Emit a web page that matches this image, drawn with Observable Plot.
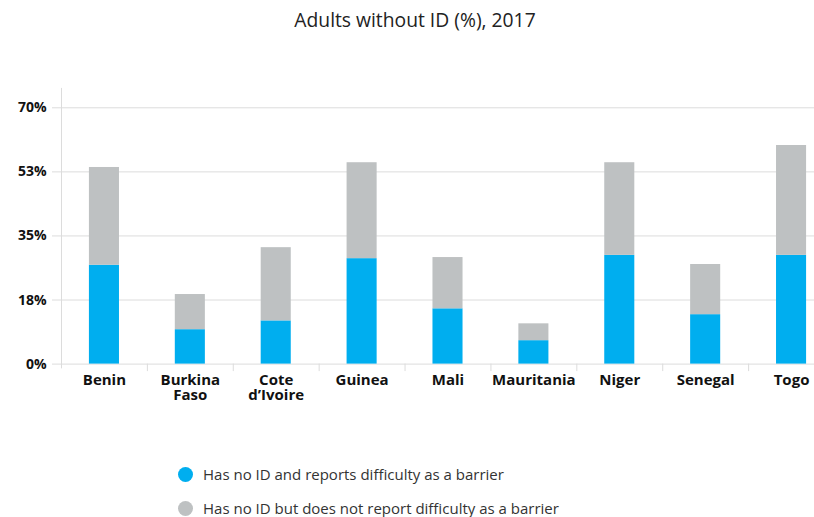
<!DOCTYPE html>
<html>
<head>
<meta charset="utf-8">
<script src="https://cdn.jsdelivr.net/npm/d3@7"></script>
<script src="https://cdn.jsdelivr.net/npm/@observablehq/plot@0.6"></script>
<style>
  html, body { margin: 0; padding: 0; background: #fff; overflow: hidden; width: 814px; height: 517px; }
  body { font-family: "Open Sans", sans-serif; }
  #title { height: 40px; line-height: 40px; font-size: 19.3px; color: #222; text-align: center; padding-left: 16px; box-sizing: border-box; }
  #chart { height: 410px; }
  #legend { margin-top: 16px; padding-left: 178px; }
  .row { height: 16px; line-height: 16px; margin-bottom: 18px; display: flex; align-items: center; font-size: 15px; color: #333; }
  .dot { width: 15px; height: 15px; border-radius: 50%; margin-right: 10px; flex: none; }
</style>
</head>
<body>
<div id="title">Adults without ID (%), 2017</div>
<div id="chart"></div>
<div id="legend"></div>
<script>
const countries = ["Benin", "Burkina Faso", "Cote d’Ivoire", "Guinea", "Mali", "Mauritania", "Niger", "Senegal", "Togo"];
const tickLabels = ["Benin", "Burkina\nFaso", "Cote\nd’Ivoire", "Guinea", "Mali", "Mauritania", "Niger", "Senegal", "Togo"];
const seriesNames = ["Has no ID and reports difficulty as a barrier", "Has no ID but does not report difficulty as a barrier"];
const seriesColors = ["#00aeef", "#bec1c2"];
const reportsDifficulty = [27.0, 9.4, 11.8, 28.8, 15.1, 6.4, 29.7, 13.5, 29.7];
const noDifficulty = [26.7, 9.6, 20.0, 26.2, 14.0, 4.6, 25.3, 13.7, 30.0];
const yTicks = [0, 17.5, 35, 52.5, 70];

const rows = [];
countries.forEach((c, i) => rows.push({country: c, series: seriesNames[0], value: reportsDifficulty[i]}));
countries.forEach((c, i) => rows.push({country: c, series: seriesNames[1], value: noDifficulty[i]}));

const W = 814, ML = 61, MR = -20;
const step = (W - ML - MR) / countries.length;

const chart = Plot.plot({
  width: W,
  height: 410,
  marginTop: 67.3,
  marginBottom: 86.4,
  marginLeft: ML,
  marginRight: MR,
  style: {fontFamily: "'Open Sans', sans-serif", overflow: "visible"},
  x: {domain: countries, paddingInner: 0.65, paddingOuter: 0.325, round: false, label: null},
  y: {domain: [0, 70], label: null},
  color: {domain: seriesNames, range: seriesColors},
  marks: [
    Plot.gridY(yTicks, {stroke: "#dcdcdc", strokeOpacity: 1}),
    Plot.axisY(yTicks, {tickSize: 9, tickPadding: 6, stroke: "#dcdcdc", fill: "#111", fontSize: 14, fontWeight: "bold", tickFormat: d => Math.round(d) + "%", label: null}),
    Plot.ruleX([countries[0]], {x: d => d, dx: -step / 2, y1: -1.3, y2: 75.3, stroke: "#dcdcdc"}),
    Plot.ruleX(countries.slice(1), {x: d => d, dx: -step / 2, y1: 0, y2: -2.05, stroke: "#dcdcdc"}),
    Plot.barY(rows, {x: "country", y: "value", fill: "series"}),
    Plot.axisX({tickSize: 0, tickPadding: 10, fill: "#111", fontSize: 15, fontWeight: "bold", lineHeight: 1, tickFormat: d => tickLabels[countries.indexOf(d)], label: null})
  ]
});
document.getElementById("chart").appendChild(chart);

const legend = document.getElementById("legend");
seriesNames.forEach((name, i) => {
  const row = document.createElement("div");
  row.className = "row";
  const dot = document.createElement("span");
  dot.className = "dot";
  dot.style.background = seriesColors[i];
  const label = document.createElement("span");
  label.textContent = name;
  row.appendChild(dot);
  row.appendChild(label);
  legend.appendChild(row);
});
</script>
</body>
</html>
